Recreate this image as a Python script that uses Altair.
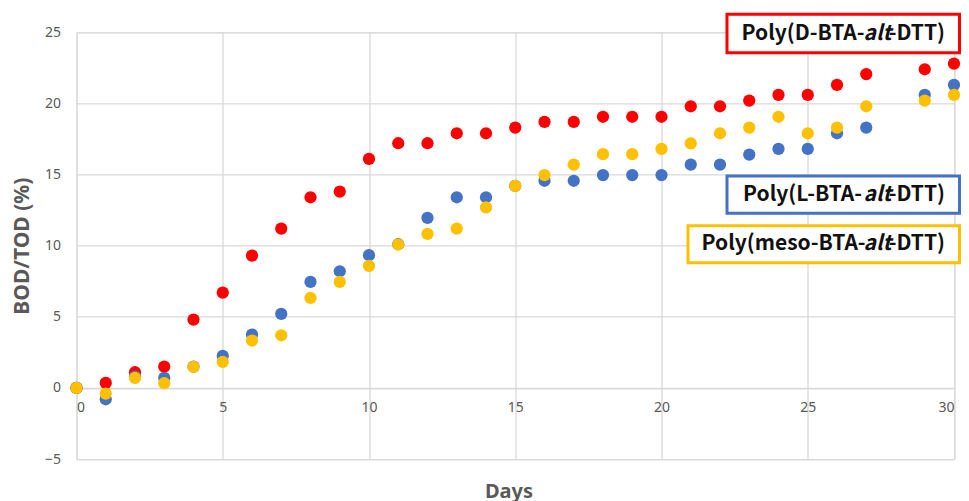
import altair as alt
import pandas as pd

# ---- data ----
days_d = [0,1,2,3,4,5,6,7,8,9,10,11,12,13,14,15,16,17,18,19,20,21,22,23,24,25,26,27,29,30]
vals_d = [0,0.35,1.1,1.5,4.8,6.7,9.3,11.2,13.4,13.8,16.1,17.2,17.2,17.9,17.9,18.3,18.7,18.7,19.06,19.06,19.06,19.8,19.8,20.2,20.6,20.6,21.3,22.06,22.4,22.8]

days_l = [0,1,2,3,4,5,6,7,8,9,10,11,12,13,14,15,16,17,18,19,20,21,22,23,24,25,26,27,29,30]
vals_l = [0,-0.8,0.8,0.7,1.5,2.25,3.75,5.2,7.45,8.2,9.33,10.1,11.95,13.4,13.4,14.2,14.56,14.56,14.96,14.96,14.96,15.7,15.7,16.4,16.8,16.8,17.9,18.3,20.6,21.3]

days_m = [0,1,2,3,4,5,6,7,8,9,10,11,12,13,14,15,16,17,18,19,20,21,22,23,24,25,26,27,29,30]
vals_m = [0,-0.4,0.7,0.33,1.48,1.83,3.33,3.7,6.33,7.45,8.58,10.08,10.83,11.2,12.69,14.2,14.96,15.7,16.43,16.43,16.8,17.19,17.9,18.3,19.06,17.9,18.3,19.8,20.2,20.6]

series_names = ["Poly(D-BTA-alt-DTT)", "Poly(L-BTA-alt-DTT)", "Poly(meso-BTA-alt-DTT)"]
series_colors = ["#FF0000", "#4472C4", "#FFC000"]
x_ticks = [0, 5, 10, 15, 20, 25, 30]
y_ticks = [-5, 0, 5, 10, 15, 20, 25]

LEFT, TOP = 68.5, 24.3
W, H = 877.5, 426.7
GRID = "#D9D9D9"
LABEL = "#595959"

rows = []
for order, (name, dd, vv) in enumerate(zip(series_names, [days_d, days_l, days_m], [vals_d, vals_l, vals_m])):
    for d, v in zip(dd, vv):
        rows.append({"series": name, "day": d, "value": v, "order": order})
df = pd.DataFrame(rows)

x_scale = alt.Scale(domain=[0, 30], nice=False, zero=False)
y_scale = alt.Scale(domain=[-5, 25], nice=False, zero=False)

points = alt.Chart(df).mark_circle(size=150, opacity=1).encode(
    x=alt.X("day:Q", scale=x_scale,
            axis=alt.Axis(values=x_ticks, title=None, grid=True, gridColor=GRID, gridWidth=1.3,
                          domainColor=GRID, domainWidth=1.3, ticks=False, offset=-(H / 6),
                          labelFont="Noto Sans", labelFontSize=14, labelColor=LABEL, labelPadding=13)),
    y=alt.Y("value:Q", scale=y_scale,
            axis=alt.Axis(values=y_ticks, title="BOD/TOD (%)", grid=True, gridColor=GRID, gridWidth=1.3,
                          domain=False, ticks=False,
                          labelFont="Noto Sans", labelFontSize=14, labelColor=LABEL, labelPadding=16,
                          titleFont="Noto Sans", titleFontSize=21, titleFontWeight="bold",
                          titleColor=LABEL, titlePadding=12)),
    color=alt.Color("series:N", scale=alt.Scale(domain=series_names, range=series_colors), legend=None),
    order=alt.Order("order:Q"),
)

# helper: page pixel -> plot pixel
def px(x):
    return x - 8 - LEFT

def py(y):
    return y - 8 - TOP

days_title = alt.Chart(pd.DataFrame({"t": ["Days"]})).mark_text(
    font="Noto Sans", fontSize=20, fontWeight="bold", color=LABEL, align="center", baseline="alphabetic"
).encode(text="t:N", x=alt.value(px(509)), y=alt.value(py(497.5)))

# label boxes (page pixels): x0, x1, y0, y1, first segment, colour, text start x, text centre y
boxes = [
    (727.0, 959.5, 14.3, 52.7, "Poly(D-BTA-", "#FF0000", 741.5, 33.5),
    (727.0, 959.5, 176.0, 213.3, "Poly(L-BTA-", "#4472C4", 743.0, 194.7),
    (688.0, 959.5, 225.7, 262.7, "Poly(meso-BTA-", "#FFC000", 701.5, 244.2),
]
layers = [points, days_title]
one = pd.DataFrame({"k": [0]})
FS = 21
for x0, x1, y0, y1, seg1, col, tx, cy in boxes:
    layers.append(alt.Chart(one).mark_rect(fill="white", stroke=col, strokeWidth=3).encode(
        x=alt.value(px(x0)), x2=alt.value(px(x1)), y=alt.value(py(y0)), y2=alt.value(py(y1))))
    for txt, xa, al, style in [(seg1, tx, "left", "normal"), ("alt", 877.5, "center", "italic"),
                               ("-DTT)", 945.0, "right", "normal")]:
        layers.append(alt.Chart(one).mark_text(
            font="Noto Sans CJK JP", fontSize=FS, fontWeight="bold", fontStyle=style,
            color="#111111", align=al, baseline="middle", text=txt
        ).encode(x=alt.value(px(xa)), y=alt.value(py(cy))))

chart = alt.layer(*layers).properties(
    width=W, height=H,
    autosize=alt.AutoSizeParams(type="none"),
    padding={"left": LEFT, "top": TOP, "right": 953 - LEFT - W, "bottom": 493 - TOP - H},
).configure_view(stroke=None).configure(background="white")

chart.save("out.html", embed_options={"renderer": "svg", "actions": False})
